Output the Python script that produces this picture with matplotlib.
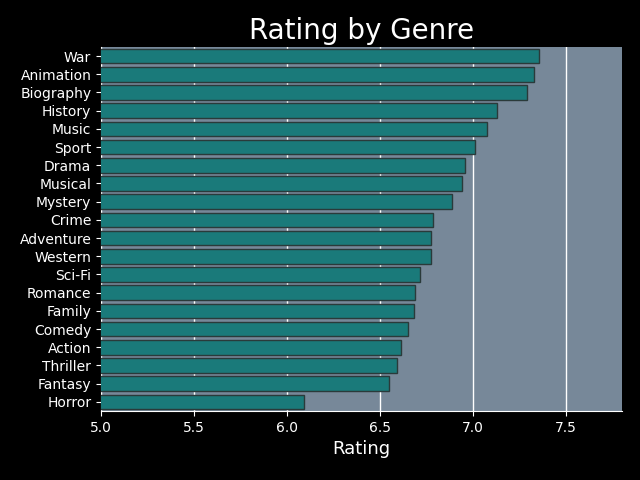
import matplotlib
matplotlib.use("Agg")
import matplotlib.pyplot as plt

genres = ["War","Animation","Biography","History","Music","Sport","Drama","Musical","Mystery","Crime",
          "Adventure","Western","Sci-Fi","Romance","Family","Comedy","Action","Thriller","Fantasy","Horror"]
ratings = [7.355,7.328,7.29,7.13,7.075,7.01,6.957,6.94,6.887,6.785,
           6.774,6.774,6.715,6.688,6.683,6.65,6.613,6.59,6.548,6.09]

fig = plt.figure(figsize=(6.4,4.8), dpi=100, facecolor="black")
ax = fig.add_axes([101/640, 1-411/480, 521/640, 364/480])
ax.set_facecolor("#778899")
y = range(len(genres))
ax.barh(y, ratings, height=0.8, color="#1a7a7a", edgecolor="#2a3a3a", linewidth=1, zorder=3)
ax.set_yticks(list(y))
ax.set_yticklabels(genres)
ax.set_ylim(len(genres)-0.5, -0.5)
ax.set_xlim(5.0, 7.8)
ax.set_xticks([5.0,5.5,6.0,6.5,7.0,7.5])
ax.grid(axis="x", color="white", linewidth=1, zorder=0)
ax.set_axisbelow(True)
for s in ["top","right"]:
    ax.spines[s].set_visible(False)
for s in ["left","bottom"]:
    ax.spines[s].set_color("white")
ax.tick_params(colors="white", labelsize=10)
ax.set_xlabel("Rating", color="white", fontsize=13)
ax.set_title("Rating by Genre", color="white", fontsize=20)
fig.savefig("out.png", facecolor="black")
